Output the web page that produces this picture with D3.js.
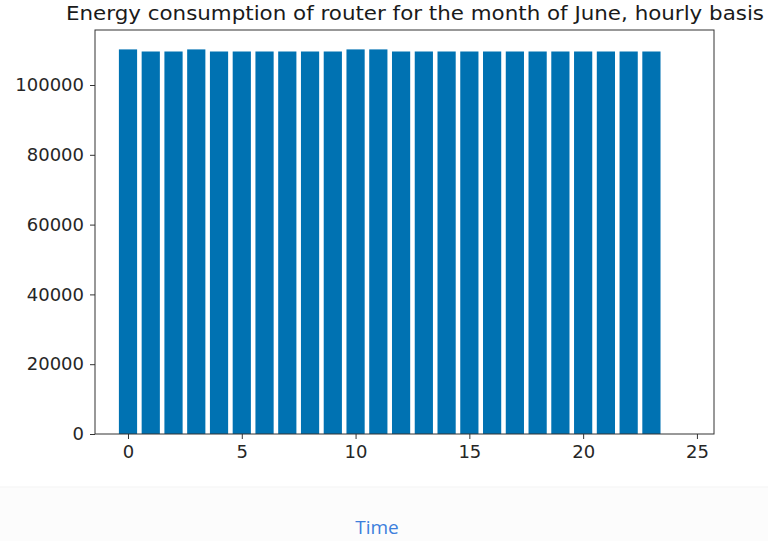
<!DOCTYPE html>
<html lang="en">
<head>
<meta charset="utf-8">
<title>Router energy</title>
<script src="https://d3js.org/d3.v7.min.js"></script>
<style>
  body { margin: 0; background: #ffffff; }
  .tick text { font-family: "DejaVu Sans", sans-serif; font-size: 18px; fill: #262626; }
</style>
</head>
<body>
<div id="chart"></div>
<script>
// hours of the day and energy per hour
var hours = d3.range(0, 24);
var energy = [110200, 109600, 109600, 110200, 109600, 109600, 109600, 109600,
              109600, 109600, 110200, 110200, 109600, 109600, 109600, 109600,
              109600, 109600, 109600, 109600, 109600, 109600, 109600, 109600];
var xTicks = [0, 5, 10, 15, 20, 25];
var yTicks = [0, 20000, 40000, 60000, 80000, 100000];

var W = 768, H = 541;
var plotL = 95, plotR = 714, plotT = 30, plotB = 434;

var svg = d3.select("#chart").append("svg")
  .attr("width", W).attr("height", H);

// light band at the bottom of the page
svg.append("rect").attr("x", 0).attr("y", 487).attr("width", W).attr("height", H - 487)
  .attr("fill", "#fcfcfc");
svg.append("line").attr("x1", 0).attr("x2", W).attr("y1", 487).attr("y2", 487)
  .attr("stroke", "#f3f3f3");

var x = d3.scaleLinear().domain([-1.45, 25.75]).range([plotL, plotR]);
var y = d3.scaleLinear().domain([0, 115760]).range([plotB, plotT]);

// bars
svg.append("g").selectAll("rect")
  .data(hours)
  .enter().append("rect")
    .attr("x", function(d) { return x(d - 0.4); })
    .attr("width", function(d) { return x(d + 0.4) - x(d - 0.4); })
    .attr("y", function(d, i) { return y(energy[i]); })
    .attr("height", function(d, i) { return y(0) - y(energy[i]); })
    .attr("fill", "#0072b2");

// axes
var xAxis = svg.append("g")
  .attr("transform", "translate(0," + plotB + ")")
  .call(d3.axisBottom(x).tickValues(xTicks).tickSize(5).tickPadding(6).tickSizeOuter(0));
var yAxis = svg.append("g")
  .attr("transform", "translate(" + plotL + ",0)")
  .call(d3.axisLeft(y).tickValues(yTicks).tickFormat(d3.format("d")).tickSize(5).tickPadding(6).tickSizeOuter(0));
[xAxis, yAxis].forEach(function(a) {
  a.select(".domain").remove();
  a.selectAll(".tick line").attr("stroke", "#333");
});

// frame
svg.append("rect")
  .attr("x", plotL).attr("y", plotT)
  .attr("width", plotR - plotL).attr("height", plotB - plotT)
  .attr("fill", "none").attr("stroke", "#333").attr("stroke-width", 1);

// title
svg.append("text")
  .attr("x", 415).attr("y", 20)
  .attr("text-anchor", "middle")
  .attr("textLength", 698)
  .attr("lengthAdjust", "spacingAndGlyphs")
  .style("font-family", "DejaVu Sans, sans-serif")
  .style("font-size", "20px")
  .attr("fill", "#1a1a1a")
  .text("Energy consumption of router for the month of June, hourly basis");

// axis label below the figure
svg.append("text")
  .attr("x", 377).attr("y", 534)
  .attr("text-anchor", "middle")
  .style("font-family", "Open Sans, sans-serif")
  .style("font-size", "19px")
  .attr("fill", "#3d7fdc")
  .text("Time");
</script>
</body>
</html>
